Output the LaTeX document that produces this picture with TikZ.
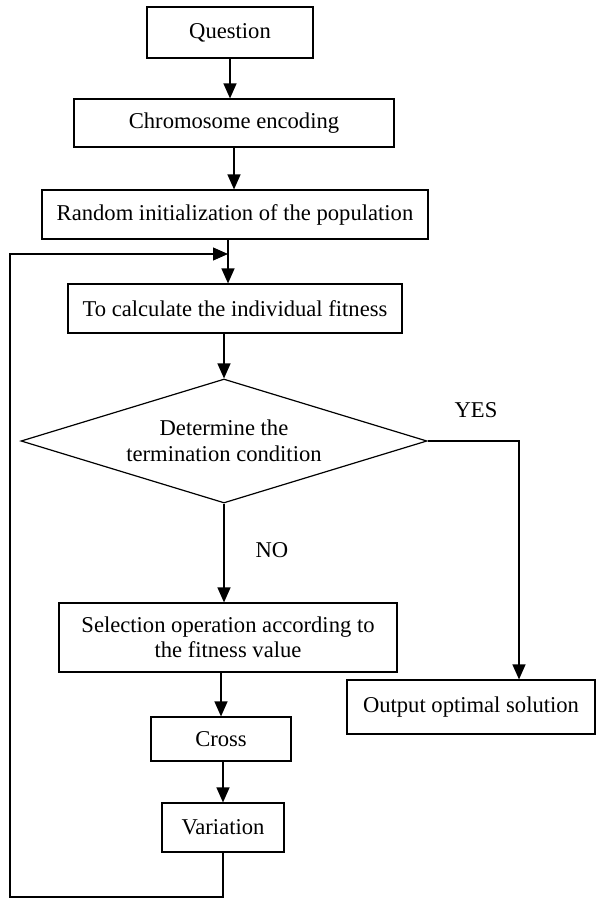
\documentclass[tikz,border=0pt]{standalone}
\usepackage{fontspec}
\setmainfont{Liberation Serif}
\usetikzlibrary{arrows.meta,shapes.geometric}

\begin{document}
\begin{tikzpicture}[x=1pt,y=-1pt,
    txt/.style={font=\fontsize{22.6}{25.5}\selectfont},
    box/.style={txt,draw,line width=1.2pt,inner sep=0pt,align=center},
    decision/.style={txt,draw,diamond,aspect=3.27,line width=1.2pt,inner sep=0pt,
        align=center,minimum width=406pt,minimum height=124pt},
    flow/.style={line width=1.2pt,-{Triangle[length=15pt,width=13pt]}}]

    % Page size
    \useasboundingbox (0,0) rectangle (596,898);

    % Main column
    \node[box,minimum width=166pt,minimum height=51pt] (ques) at (230,32.5) {Question};
    \node[box,minimum width=320pt,minimum height=48pt] (enc) at (234,123) {Chromosome encoding};
    \node[box,minimum width=386pt,minimum height=49pt] (init) at (235,214.5) {Random initialization of the population};
    \node[box,minimum width=334pt,minimum height=49pt] (fit) at (235,308.5) {To calculate the individual fitness};
    \node[decision] (cond) at (224,441) {Determine the\\termination condition};
    \node[box,minimum width=338pt,minimum height=69pt] (sel) at (228,637.5) {Selection operation according to\\the fitness value};
    \node[box,minimum width=140pt,minimum height=44pt] (cross) at (221,739) {Cross};
    \node[box,minimum width=122pt,minimum height=49pt] (vari) at (223,827.5) {Variation};

    % Output on the right
    \node[box,minimum width=248pt,minimum height=54pt] (out) at (471,707) {Output optimal solution};

    % Branch labels
    \node[txt] (yes) at (476,410) {YES};
    \node[txt] (no) at (272,550) {NO};

    % Helper points
    \coordinate (loopin) at (228,254);
    \coordinate (loopbl) at (10,897);
    \coordinate (yesturn) at (519,441);

    % Arrows down the column
    \draw[flow] (ques.south) -- (ques.south |- enc.north);
    \draw[flow] (enc.south) -- (enc.south |- init.north);
    \draw[flow] (loopin |- init.south) -- (loopin |- fit.north);
    \draw[flow] (cond.north |- fit.south) -- (cond.north);
    \draw[flow] (cond.south) -- (cond.south |- sel.north);
    \draw[flow] (cross.north |- sel.south) -- (cross.north);
    \draw[flow] (vari.north |- cross.south) -- (vari.north);

    % YES branch
    \draw[flow] (cond.east) -- (yesturn) -- (yesturn |- out.north);

    % Loop back
    \draw[flow] (vari.south) |- (loopbl) |- (loopin);

\end{tikzpicture}
\end{document}
